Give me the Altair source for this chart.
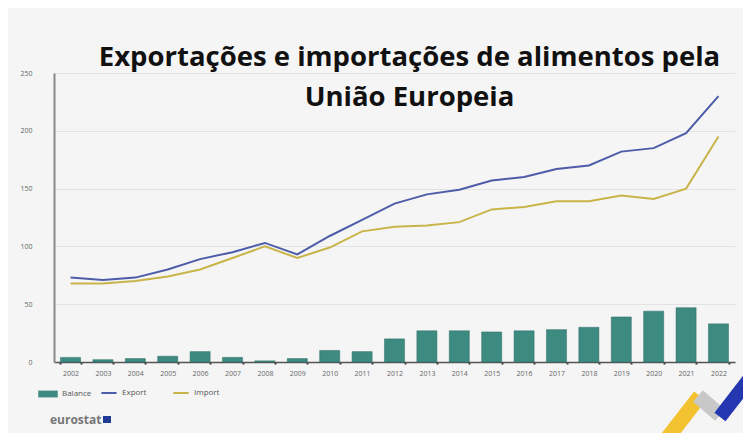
import altair as alt
import pandas as pd

years = [str(y) for y in range(2002, 2023)]
export = [73, 71, 73, 80, 89, 95, 103, 93, 109, 123, 137, 145, 149, 157, 160, 167, 170, 182, 185, 198, 230]
imports = [68, 68, 70, 74, 80, 90, 100, 90, 99, 113, 117, 118, 121, 132, 134, 139, 139, 144, 141, 150, 195]
balance = [4, 2, 3, 5, 9, 4, 1, 3, 10, 9, 20, 27, 27, 26, 27, 28, 30, 39, 44, 47, 33]

bar_color = "#3d8a80"
line_names = ["Export", "Import"]
line_colors = ["#4d5ca8", "#c9b44a"]

bars = pd.DataFrame({"year": years, "value": balance, "series": "Balance"})
lines = pd.DataFrame({
    "year": years * 2,
    "value": export + imports,
    "series": ["Export"] * len(years) + ["Import"] * len(years),
})

legend_common = dict(
    title=None, orient="none", direction="horizontal", labelFontSize=8,
    labelColor="#555555", labelFont="Open Sans", legendY=311, columnPadding=22,
)

x = alt.X(
    "year:O",
    sort=years,
    title=None,
    scale=alt.Scale(paddingInner=0.38, paddingOuter=0.2),
    axis=alt.Axis(
        labelAngle=0, labelFontSize=7, labelColor="#666666", labelFont="Open Sans",
        domainColor="#555555", domainWidth=1.5, tickColor="#333333", tickSize=2,
        tickBand="extent", tickWidth=2, labelPadding=5,
    ),
)
y = alt.Y(
    "value:Q",
    title=None,
    scale=alt.Scale(domain=[0, 250], nice=False),
    axis=alt.Axis(
        values=[0, 50, 100, 150, 200, 250], labelFontSize=7, labelColor="#666666",
        labelFont="Open Sans", gridColor="#e2e2e2", domainColor="#888888",
        domainWidth=2, ticks=False, labelPadding=22,
    ),
)

bar_layer = alt.Chart(bars).mark_bar(stroke="#2f6f67", strokeWidth=0.5).encode(
    x=x, y=y,
    fill=alt.Fill(
        "series:N",
        scale=alt.Scale(domain=["Balance"], range=[bar_color]),
        legend=alt.Legend(legendX=-16, symbolType="M-1,-0.35H1V0.35H-1Z", symbolSize=380,
                          symbolStrokeWidth=0, **legend_common),
    ),
)
line_layer = alt.Chart(lines).mark_line(strokeWidth=2).encode(
    x=x, y=y,
    stroke=alt.Stroke(
        "series:N",
        scale=alt.Scale(domain=line_names, range=line_colors),
        legend=alt.Legend(legendX=46, symbolType="stroke", symbolSize=230,
                          symbolStrokeWidth=2, **legend_common),
    ),
)

logo = alt.Chart(pd.DataFrame({"t": ["eurostat"]})).mark_text(
    fontSize=12, fontWeight="bold", color="#777777", align="left", font="Open Sans"
).encode(text="t:N", x=alt.value(-4), y=alt.value(347))
flag = alt.Chart(pd.DataFrame({"t": ["eu"]})).mark_rect(color="#1f3a93").encode(
    x=alt.value(49), x2=alt.value(57), y=alt.value(343), y2=alt.value(350)
)

deco = pd.DataFrame({"t": ["y"]})
yellow = alt.Chart(deco).mark_rule(color="#f2c230", strokeWidth=15, strokeCap="butt").encode(
    x=alt.value(608), y=alt.value(372), x2=alt.value(646), y2=alt.value(323)
)
grey = alt.Chart(deco).mark_rule(color="#c8c8c8", strokeWidth=15, strokeCap="butt").encode(
    x=alt.value(644), y=alt.value(323), x2=alt.value(666), y2=alt.value(342)
)
blue = alt.Chart(deco).mark_rule(color="#2436b0", strokeWidth=14, strokeCap="butt").encode(
    x=alt.value(666), y=alt.value(344), x2=alt.value(700), y2=alt.value(300)
)

chart = alt.layer(bar_layer, line_layer, logo, flag, yellow, grey, blue).properties(
    width=681,
    height=289,
    autosize=alt.AutoSizeParams(type="none"),
    padding={"left": 46, "top": 65, "right": 8, "bottom": 71},
    background="#f5f5f5",
    title=alt.TitleParams(
        text=["Exportações e importações de alimentos pela", "União Europeia"],
        fontSize=27.5,
        fontWeight="bold",
        font="Open Sans",
        color="#111111",
        anchor="middle",
        dx=15,
        offset=-42,
        lineHeight=40,
    ),
).configure_view(stroke=None)

chart.save("out.html", embed_options={"renderer": "svg", "actions": False})
